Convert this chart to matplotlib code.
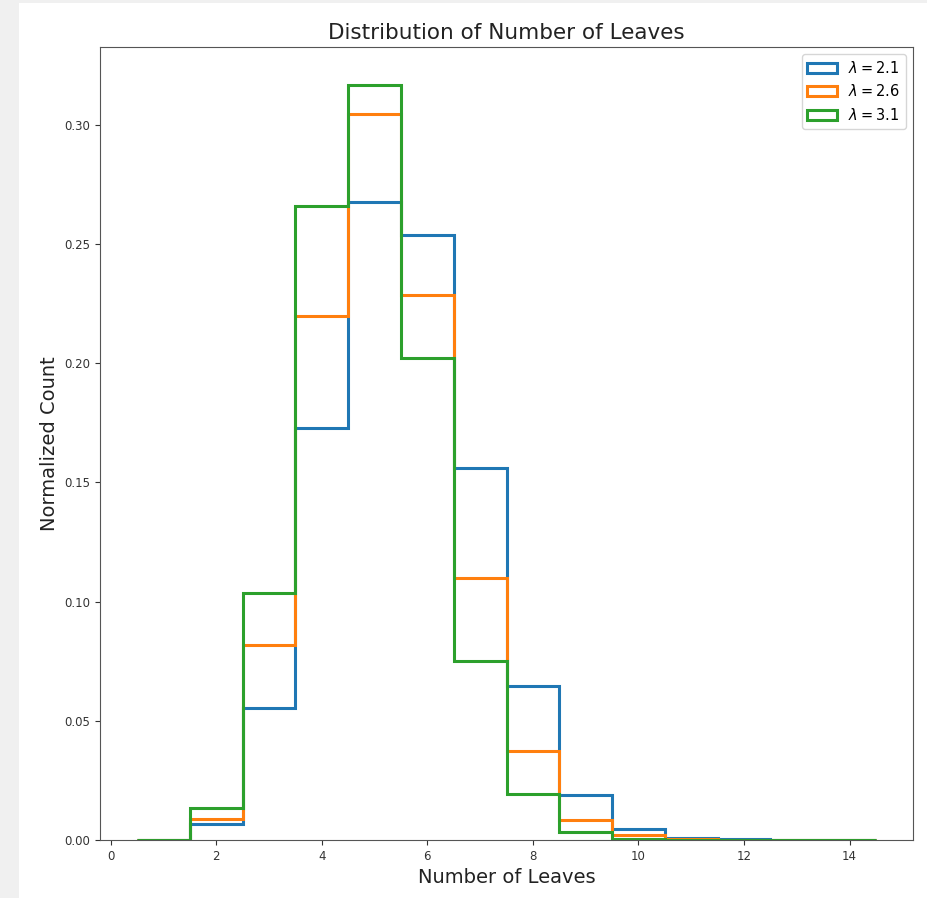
import matplotlib
matplotlib.use("Agg")
import matplotlib.pyplot as plt
from matplotlib.patches import Rectangle
import numpy as np

leaves = [1, 2, 3, 4, 5, 6, 7, 8, 9, 10, 11, 12, 13, 14]
labels = [r"$\lambda = 2.1$", r"$\lambda = 2.6$", r"$\lambda = 3.1$"]
blue = [0.0, 0.0067, 0.0555, 0.1729, 0.2676, 0.2537, 0.1561, 0.0644, 0.0189, 0.0046, 0.0008, 0.0003, 0.0, 0.0]
orange = [0.0, 0.0088, 0.0820, 0.2200, 0.3046, 0.2285, 0.1098, 0.0374, 0.0084, 0.0020, 0.0005, 0.0001, 0.0, 0.0]
green = [0.0, 0.0135, 0.1035, 0.2660, 0.3168, 0.2020, 0.0749, 0.0194, 0.0034, 0.0005, 0.0001, 0.0, 0.0, 0.0]
series = [blue, orange, green]
colors = ["#1f77b4", "#ff7f0e", "#2ca02c"]

W, H = 927, 898
fig = plt.figure(figsize=(W / 100, H / 100), dpi=100)
fig.patch.set_facecolor("white")
# notebook-style gray border
fig.patches.append(Rectangle((0, 0), 19 / W, 1, transform=fig.transFigure,
                             facecolor="#f0f0f0", edgecolor="none", zorder=-10))
fig.patches.append(Rectangle((0, 1 - 3 / H), 1, 3 / H, transform=fig.transFigure,
                             facecolor="#f0f0f0", edgecolor="none", zorder=-10))

ax = fig.add_axes([100 / W, (H - 840) / H, (913 - 100) / W, (840 - 47) / H])

edges = np.arange(0.5, 15.0, 1.0)
for vals, lab, c in zip(series, labels, colors):
    ax.hist(leaves, bins=edges, weights=vals, histtype="step", linewidth=2.2,
            color=c, label=lab)

ax.set_title("Distribution of Number of Leaves", fontsize=15.5, color="#222222")
ax.set_xlabel("Number of Leaves", fontsize=14, color="#222222")
ax.set_ylabel("Normalized Count", fontsize=14, color="#222222")
ax.tick_params(labelsize=8.5, colors="#333333")
for s in ax.spines.values():
    s.set_color("#555555")
ax.legend(loc="upper right", fontsize=10.5, handlelength=2.0)

fig.savefig("out.png", dpi=100)
